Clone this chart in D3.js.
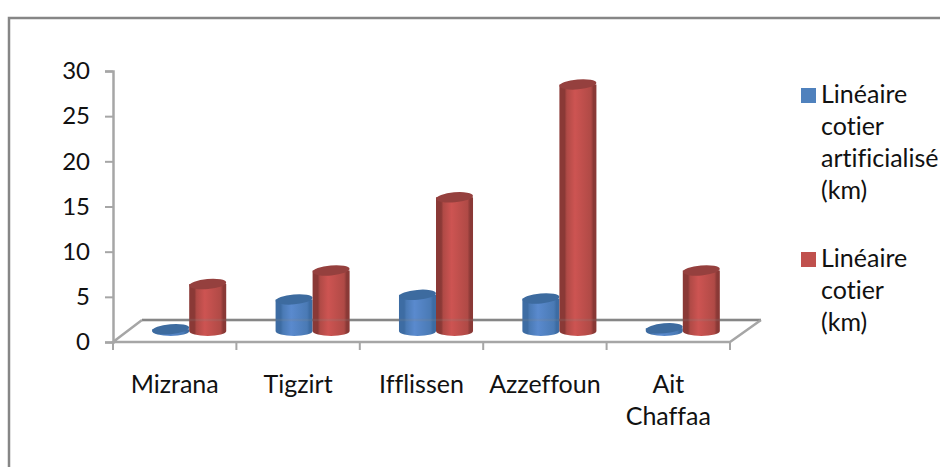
<!doctype html>
<html>
  <head>
    <meta charset="utf-8">
    <script src="https://cdn.jsdelivr.net/npm/d3@7"></script>
    <style>
      html, body { margin: 0; background: #fff; }
      svg { display: block; }
      text { font-family: Lato, sans-serif; fill: #111; font-variant-ligatures: none; }
    </style>
  </head>
  <body>
    <svg width="940" height="467"></svg>
    <script>
        var categories = ["Mizrana", "Tigzirt", "Ifflissen", "Azzeffoun", "Ait Chaffaa"];
        var seriesNames = ["Linéaire cotier artificialisé (km)", "Linéaire cotier (km)"];
        var artificialise = [0.2, 3.5, 4, 3.6, 0.3];
        var cotier = [5.2, 6.7, 14.8, 27.3, 6.7];
        var yTicks = [0, 5, 10, 15, 20, 25, 30];

        var legendLines = [
            ["Linéaire", "cotier", "artificialisé", "(km)"],
            ["Linéaire", "cotier", "(km)"]
        ];
        var labelLines = [["Mizrana"], ["Tigzirt"], ["Ifflissen"], ["Azzeffoun"], ["Ait", "Chaffaa"]];

        var svg = d3.select("svg");

        var colors = [
            {dark: "#3d6ca3", side: "#4a7ab5", mid: "#5a8ace", top: "#3d6b9f", legend: "#4f81bd"},
            {dark: "#8a3936", side: "#b04a46", mid: "#cd5452", top: "#95403e", legend: "#c0504d"}
        ];

        var defs = svg.append("defs");
        colors.forEach((c, i) => {
            var g = defs.append("linearGradient").attr("id", "cyl" + i);
            g.append("stop").attr("offset", "0%").attr("stop-color", c.dark);
            g.append("stop").attr("offset", "14%").attr("stop-color", c.dark);
            g.append("stop").attr("offset", "20%").attr("stop-color", c.side);
            g.append("stop").attr("offset", "42%").attr("stop-color", c.mid);
            g.append("stop").attr("offset", "85%").attr("stop-color", c.side);
            g.append("stop").attr("offset", "92%").attr("stop-color", c.dark);
            g.append("stop").attr("offset", "100%").attr("stop-color", c.dark);
        });

        // outer frame, runs off the right and bottom edges
        svg.append("rect")
            .attr("x", 9).attr("y", 18)
            .attr("width", 1000).attr("height", 600)
            .attr("fill", "none").attr("stroke", "#868686").attr("stroke-width", 2.5);

        var x = d3.scaleBand().domain(categories).range([113, 730]);
        var inner = d3.scaleBand().domain([0, 1]).range([0, x.step() * 0.6]);
        var groupOffset = x.step() * 0.2 + 14.5;
        var y = d3.scaleLinear().domain([0, 30]).range([342, 71]);
        var depthDy = 11; // front plane to mid depth, where the bars stand

        // floor
        var floor = [[113, 342], [142, 320], [761, 320], [730, 342]];
        var backLine = () => svg.append("line")
            .attr("x1", floor[1][0]).attr("y1", floor[1][1])
            .attr("x2", floor[2][0]).attr("y2", floor[2][1])
            .attr("stroke", "#868686").attr("stroke-width", 2.5);
        backLine();
        svg.append("path")
            .attr("d", "M" + floor[1] + "L" + floor[0] + "L" + floor[3] + "L" + floor[2])
            .attr("fill", "none").attr("stroke", "#a6a6a6").attr("stroke-width", 2.5);

        // y axis
        var yAxis = svg.append("g").attr("transform", "translate(113,0)")
            .call(d3.axisLeft(y).tickValues(yTicks).tickSize(8).tickPadding(15));
        yAxis.select(".domain").attr("stroke", "#a6a6a6").attr("stroke-width", 2.5);
        yAxis.selectAll(".tick line").attr("stroke", "#a6a6a6").attr("stroke-width", 2);
        yAxis.selectAll("text").style("font-family", "Lato, sans-serif").style("font-size", "24px").style("fill", "#111");

        // x ticks
        svg.append("g").selectAll("line")
            .data(categories.concat(["end"]))
            .enter()
            .append("line")
                .attr("x1", (d, i) => 113 + i * x.step())
                .attr("x2", (d, i) => 113 + i * x.step())
                .attr("y1", 342).attr("y2", 350)
                .attr("stroke", "#a6a6a6").attr("stroke-width", 2);

        // category labels
        svg.append("g").selectAll("text")
            .data(labelLines)
            .enter()
            .append("text")
                .attr("text-anchor", "middle")
                .attr("font-size", 25)
                .each(function(lines, i){
                    d3.select(this).selectAll("tspan").data(lines).enter().append("tspan")
                        .attr("x", x(categories[i]) + x.bandwidth() / 2)
                        .attr("y", (d, j) => 393 + j * 32)
                        .text(d => d);
                });

        // cylinders
        var rx = inner.bandwidth() / 2;
        var ry = 5;
        [artificialise, cotier].forEach((values, s) => {
            var g = svg.append("g").attr("class", "series-" + s);
            values.forEach((v, i) => {
                var cx = x(categories[i]) + groupOffset + inner(s) + rx;
                var base = y(0) - depthDy;
                var topY = y(v) - depthDy;
                g.append("path")
                    .attr("d", "M" + (cx - rx) + "," + topY + "L" + (cx - rx) + "," + base
                        + "A" + rx + "," + ry + " 0 0 0 " + (cx + rx) + "," + base
                        + "L" + (cx + rx) + "," + topY + "Z")
                    .attr("fill", "url(#cyl" + s + ")");
                g.append("ellipse")
                    .attr("cx", cx).attr("cy", topY)
                    .attr("rx", rx).attr("ry", ry)
                    .attr("transform", "rotate(-5," + cx + "," + topY + ")")
                    .attr("fill", colors[s].top);
            });
        });

        // back floor line shows faintly through the bars
        backLine().attr("stroke-opacity", 0.2);

        // legend
        var legendY = [95.5, 259.5];
        legendLines.forEach((lines, s) => {
            svg.append("rect").attr("x", 801).attr("y", legendY[s] - 7.5)
                .attr("width", 15).attr("height", 15)
                .attr("fill", colors[s].legend);
            svg.append("text")
                .attr("font-size", 25)
                .selectAll("tspan").data(lines).enter().append("tspan")
                    .attr("x", 821)
                    .attr("y", (d, j) => legendY[s] + 7.5 + j * 32)
                    .text(d => d);
        });
    </script>
  </body>
</html>
